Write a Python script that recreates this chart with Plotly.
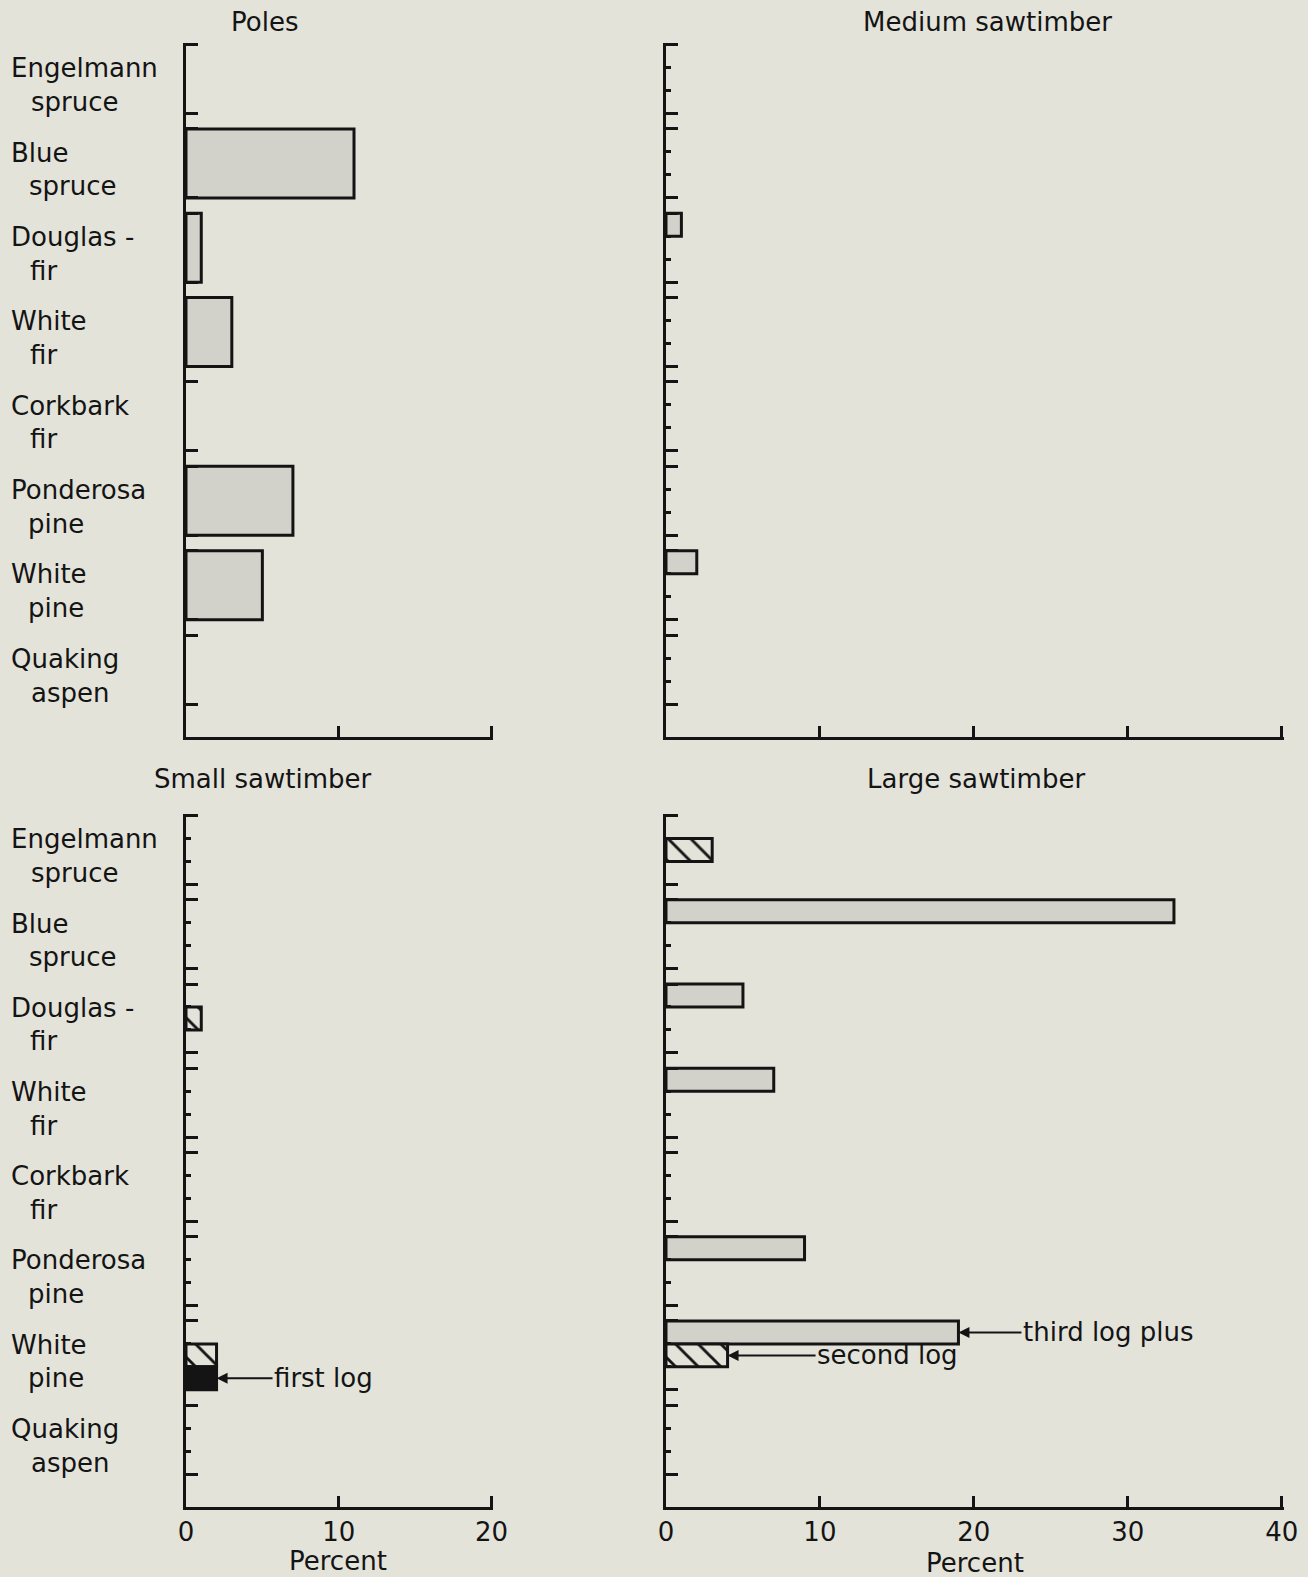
import plotly.graph_objects as go

# ---------------- data ----------------
label_line1 = ["Engelmann", "Blue", "Douglas -", "White", "Corkbark", "Ponderosa", "White", "Quaking"]
label_line2 = ["spruce", "spruce", "fir", "fir", "fir", "pine", "pine", "aspen"]

poles = [0, 11, 1, 3, 0, 7, 5, 0]

medium_third = [0, 0, 1, 0, 0, 0, 2, 0]
medium_second = [0, 0, 0, 0, 0, 0, 0, 0]
medium_first = [0, 0, 0, 0, 0, 0, 0, 0]

small_third = [0, 0, 0, 0, 0, 0, 0, 0]
small_second = [0, 0, 1, 0, 0, 0, 2, 0]
small_first = [0, 0, 0, 0, 0, 0, 2, 0]

large_third = [0, 33, 5, 7, 0, 9, 19, 0]
large_second = [3, 0, 0, 0, 0, 0, 4, 0]
large_first = [0, 0, 0, 0, 0, 0, 0, 0]

panel_titles = ["Poles", "Medium sawtimber", "Small sawtimber", "Large sawtimber"]
x_ticks_small = [0, 10, 20]
x_ticks_large = [0, 10, 20, 30, 40]

# ---------------- style ----------------
W, H = 1308, 1577
BG = "#e3e3da"
GREY = "#d2d2cb"
INK = "#141414"
FONT = "DejaVu Sans"
FS = 26

PITCH = 11          # species pitch in y units
SPAN = 9            # species block height
SLOT = 3            # log-class slot height
YMAX = 90.3

indent = [29, 27, 28, 28, 28, 26, 26, 29]


def pidx(v):
    return [val if val else None for val in v]


def px(xp):
    return xp / W


def py(yp):
    return 1 - yp / H


fig = go.Figure()

dom = {
    1: dict(x=[px(186), px(493)], y=[py(737), py(43)], xr=[0, 20.1], xt=x_ticks_small, lab=False),
    2: dict(x=[px(666), px(1284)], y=[py(737), py(43)], xr=[0, 40.15], xt=x_ticks_large, lab=False),
    3: dict(x=[px(186), px(493)], y=[py(1507), py(814)], xr=[0, 20.1], xt=x_ticks_small, lab=True),
    4: dict(x=[px(666), px(1284)], y=[py(1507), py(814)], xr=[0, 40.15], xt=x_ticks_large, lab=True),
}

n = len(label_line1)
long_ticks = []
for i in range(n):
    long_ticks += [PITCH * i, PITCH * i + SPAN]
short_ticks = []
for i in range(n):
    short_ticks += [PITCH * i + SLOT, PITCH * i + 2 * SLOT]

layout = dict(
    width=W, height=H, autosize=False,
    margin=dict(l=0, r=0, t=0, b=0, pad=0, autoexpand=False),
    paper_bgcolor=BG, plot_bgcolor=BG,
    showlegend=False, barmode="overlay",
    font=dict(family=FONT, size=FS, color=INK),
)

for k, d in dom.items():
    xa = "xaxis" if k == 1 else f"xaxis{k}"
    ya = "yaxis" if k == 1 else f"yaxis{k}"
    yname = "y" if k == 1 else f"y{k}"
    xname = "x" if k == 1 else f"x{k}"
    layout[xa] = dict(
        domain=d["x"], range=d["xr"], anchor=yname, automargin=False,
        showline=True, linecolor=INK, linewidth=3,
        ticks="inside", ticklen=11, tickwidth=3, tickcolor=INK,
        tickmode="array", tickvals=d["xt"], ticktext=[str(t) for t in d["xt"]],
        showticklabels=d["lab"], showgrid=False, zeroline=False,
        tickfont=dict(family=FONT, size=FS, color=INK),
        fixedrange=True,
    )
    ydict = dict(
        domain=d["y"], range=[YMAX, -0.2], anchor=xname, automargin=False,
        showline=True, linecolor=INK, linewidth=3,
        ticks="inside", ticklen=12, tickwidth=3, tickcolor=INK,
        tickmode="array", tickvals=long_ticks, showticklabels=False,
        showgrid=False, zeroline=False, fixedrange=True,
    )
    if k != 1:
        ydict["minor"] = dict(tickmode="array", tickvals=short_ticks, ticks="inside",
                              ticklen=5, tickwidth=3, tickcolor=INK, showgrid=False)
    layout[ya] = ydict

fig.update_layout(**layout)

line = dict(color=INK, width=3)

pole_y = [PITCH * i + SPAN / 2 for i in range(n)]
fig.add_trace(go.Bar(orientation="h", x=pidx(poles), y=pole_y, width=SPAN,
                     marker=dict(color=GREY, line=line), xaxis="x", yaxis="y"))


def slot_y(j):
    return [PITCH * i + SLOT * j + SLOT / 2 for i in range(n)]


def add_saw(third, second, first, xa, ya):
    fig.add_trace(go.Bar(orientation="h", x=pidx(third), y=slot_y(0), width=SLOT,
                         marker=dict(color=GREY, line=line), xaxis=xa, yaxis=ya))
    fig.add_trace(go.Bar(orientation="h", x=pidx(second), y=slot_y(1), width=SLOT,
                         marker=dict(color=BG, line=line,
                                     pattern=dict(shape="\\", fgcolor=INK, bgcolor=BG,
                                                  fgopacity=1, size=16, solidity=0.18)),
                         xaxis=xa, yaxis=ya))
    fig.add_trace(go.Bar(orientation="h", x=pidx(first), y=slot_y(2), width=SLOT,
                         marker=dict(color=INK, line=line), xaxis=xa, yaxis=ya))


add_saw(medium_third, medium_second, medium_first, "x2", "y2")
add_saw(small_third, small_second, small_first, "x3", "y3")
add_saw(large_third, large_second, large_first, "x4", "y4")

ann = []
for yref in ["y", "y3"]:
    for i in range(n):
        ann.append(dict(text=label_line1[i], xref="paper", yref=yref, x=px(9),
                        y=PITCH * i + 3.1, xanchor="left", yanchor="middle",
                        showarrow=False, font=dict(family=FONT, size=FS, color=INK)))
        ann.append(dict(text=label_line2[i], xref="paper", yref=yref, x=px(indent[i]),
                        y=PITCH * i + 7.5, xanchor="left", yanchor="middle",
                        showarrow=False, font=dict(family=FONT, size=FS, color=INK)))

title_pos = [(264, 22), (988, 22), (262, 779), (976, 779)]
for t, (tx, ty) in zip(panel_titles, title_pos):
    ann.append(dict(text=t, xref="paper", yref="paper", x=px(tx), y=py(ty),
                    xanchor="center", yanchor="middle", showarrow=False,
                    font=dict(family=FONT, size=FS, color=INK)))

for tx, ty in [(338, 1561), (975, 1563)]:
    ann.append(dict(text="Percent", xref="paper", yref="paper", x=px(tx), y=py(ty),
                    xanchor="center", yanchor="middle", showarrow=False,
                    font=dict(family=FONT, size=FS, color=INK)))

arrow_style = dict(showarrow=True, arrowhead=2, arrowsize=1.1, arrowwidth=2,
                   arrowcolor=INK, ay=0, font=dict(family=FONT, size=FS, color=INK))
ann.append(dict(text="first log", xref="x3", yref="y3", x=small_first[6],
                y=slot_y(2)[6], ax=107, **arrow_style))
ann.append(dict(text="third log plus", xref="x4", yref="y4", x=large_third[6],
                y=slot_y(0)[6], ax=150, **arrow_style))
ann.append(dict(text="second log", xref="x4", yref="y4", x=large_second[6],
                y=slot_y(1)[6], ax=160, **arrow_style))

fig.update_layout(annotations=ann)

fig.write_html(
    "out.html",
    config={"displayModeBar": False, "responsive": False},
    default_width="1308px",
    default_height="1577px",
    post_script="document.body.style.margin='0';document.body.style.overflow='hidden';",
)
